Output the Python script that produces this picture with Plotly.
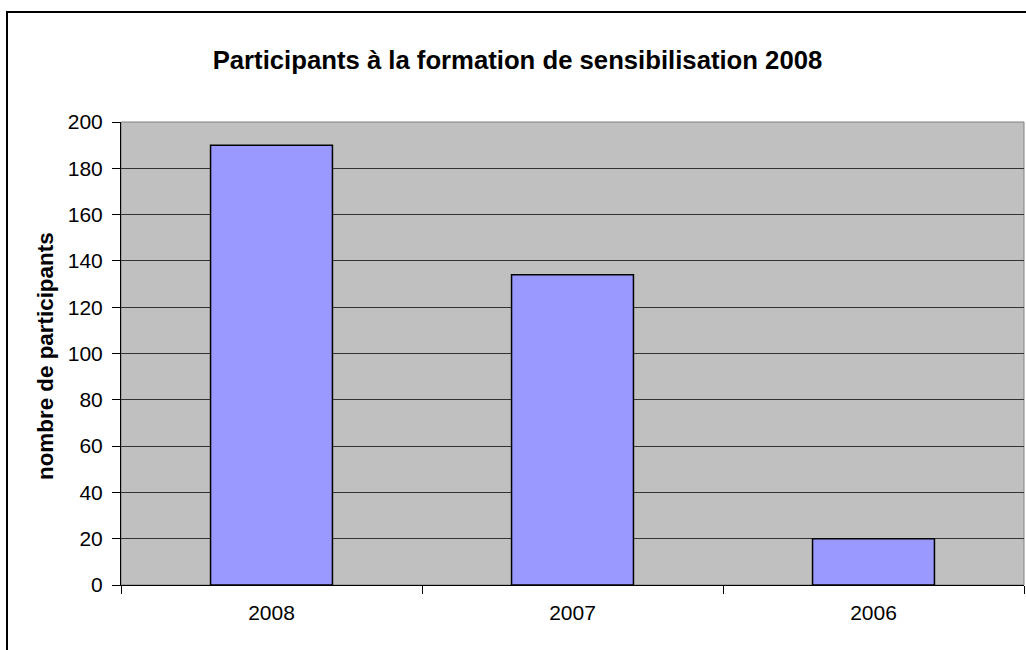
import plotly.graph_objects as go

years = ["2008", "2007", "2006"]
participants = [190, 134, 20]
y_ticks = [0, 20, 40, 60, 80, 100, 120, 140, 160, 180, 200]

FONT = "Liberation Sans, Arial, sans-serif"

fig = go.Figure()
fig.add_trace(go.Bar(
    x=years, y=participants,
    marker=dict(color="#9999FF", line=dict(color="#000000", width=1.5)),
    hoverinfo="x+y",
))

W, H = 1026, 650
# plot area pixel geometry: x 121..1024, y 122..585
L, R, T, B = 121, W - 1024, 122, H - 585
pw, ph = 1024 - 121, 585 - 122

def px_x(px):
    return (px - L) / pw

def px_y(py):
    return (585 - py) / ph

fig.update_layout(
    width=W, height=H,
    margin=dict(l=L, r=R, t=T, b=B, pad=0),
    paper_bgcolor="#FFFFFF",
    plot_bgcolor="#C0C0C0",
    bargap=0.595,
    showlegend=False,
    font=dict(family=FONT, color="#000000", size=20),
    title=dict(
        text="<b>Participants à la formation de sensibilisation 2008</b>",
        x=517.5 / W, xref="container", xanchor="center",
        y=1 - 60 / H, yref="container", yanchor="middle",
        font=dict(family=FONT, size=25.7, color="#000000"),
    ),
    xaxis=dict(
        type="category",
        showgrid=False,
        showline=True, linecolor="#000000", linewidth=1,
        ticks="outside", tickson="boundaries", ticklen=8, tickcolor="#000000",
        tickfont=dict(family=FONT, size=21, color="#000000"),
        ticklabelstandoff=9,
    ),
    yaxis=dict(
        range=[0, 200],
        tickvals=y_ticks,
        showgrid=True, gridcolor="#333333", gridwidth=1,
        zeroline=False,
        showline=True, linecolor="#000000", linewidth=1,
        ticks="outside", ticklen=8, tickcolor="#000000",
        tickfont=dict(family=FONT, size=21, color="#000000"),
        ticklabelstandoff=5,
    ),
    annotations=[dict(
        text="<b>nombre de participants</b>",
        xref="paper", yref="paper",
        x=px_x(45), y=px_y(356), xanchor="center", yanchor="middle",
        textangle=-90, showarrow=False,
        font=dict(family=FONT, size=22.4, color="#000000"),
    )],
    shapes=[
        # plot area border (grey)
        dict(type="rect", xref="paper", yref="paper", x0=0, y0=0, x1=1, y1=1,
             line=dict(color="#808080", width=1), layer="below"),
        # outer chart border
        dict(type="rect", xref="paper", yref="paper",
             x0=px_x(7), y0=px_y(700), x1=px_x(1100), y1=px_y(12),
             line=dict(color="#000000", width=2)),
    ],
)

fig.write_html("out.html", config={"displayModeBar": False},
               post_script="document.body.style.margin='0';")
